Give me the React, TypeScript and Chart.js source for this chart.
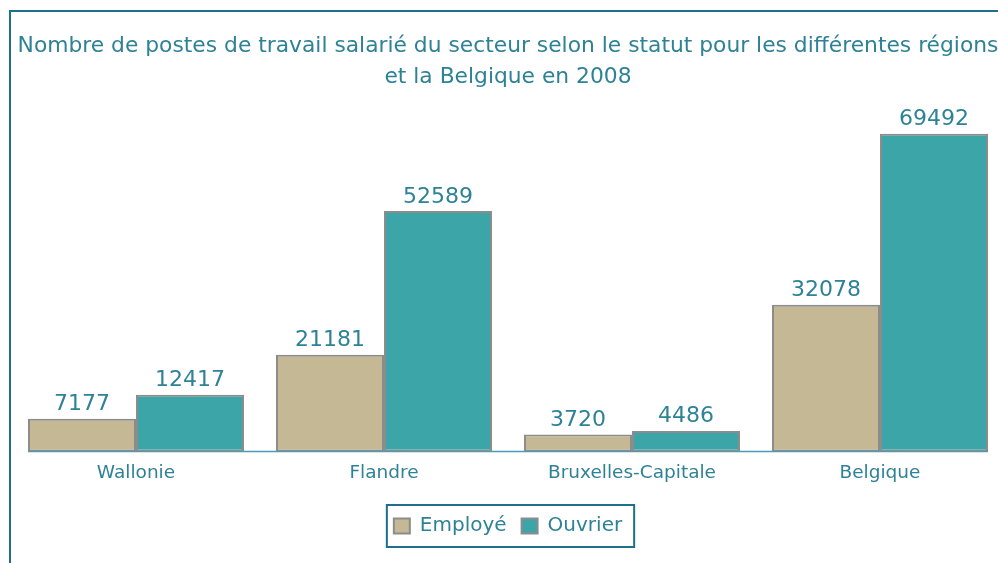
import React, { useEffect, useRef } from 'react';
import { Chart, registerables } from 'chart.js';

Chart.register(...registerables);

const TITLE_LINES = [
  'Nombre de postes de travail salarié du secteur selon le statut pour les différentes régions',
  'et la Belgique en 2008',
];
const CATEGORIES = ['Wallonie', 'Flandre', 'Bruxelles-Capitale', 'Belgique'];
const SERIES_NAMES = ['Employé', 'Ouvrier'];
const EMPLOYE = [7177, 21181, 3720, 32078];
const OUVRIER = [12417, 52589, 4486, 69492];
const Y_MAX = 78500;

const TEXT_COLOR = '#2e8296';
const FRAME_COLOR = '#1f6f8c';
const EMPLOYE_COLOR = '#c5b894';
const OUVRIER_COLOR = '#3ca5a8';
const BAR_BORDER = '#8c8c8c';
const FONT = '"DejaVu Sans", Verdana, sans-serif';

const valueLabels = {
  id: 'valueLabels',
  afterDatasetsDraw(chart: any) {
    const ctx = chart.ctx;
    ctx.save();
    ctx.font = `22px ${FONT}`;
    ctx.fillStyle = TEXT_COLOR;
    ctx.textAlign = 'center';
    ctx.textBaseline = 'alphabetic';
    chart.data.datasets.forEach((ds: any, i: number) => {
      const meta = chart.getDatasetMeta(i);
      meta.data.forEach((bar: any, j: number) => {
        ctx.fillText(String(ds.data[j]), bar.x, bar.y - 8.5);
      });
    });
    ctx.restore();
  },
};

const baseline = {
  id: 'baseline',
  beforeDatasetsDraw(chart: any) {
    const first = chart.getDatasetMeta(0).data[0];
    const lastMeta = chart.getDatasetMeta(chart.data.datasets.length - 1);
    const last = lastMeta.data[lastMeta.data.length - 1];
    if (!first || !last) return;
    const y = chart.scales.y.getPixelForValue(0);
    const ctx = chart.ctx;
    ctx.save();
    ctx.strokeStyle = '#4a9cb2';
    ctx.lineWidth = 1.5;
    ctx.beginPath();
    ctx.moveTo(first.x - first.width / 2, y);
    ctx.lineTo(last.x + last.width / 2, y);
    ctx.stroke();
    ctx.restore();
  },
};

const legendFrame = {
  id: 'legendFrame',
  afterDraw(chart: any) {
    const hb = chart.legend && chart.legend.legendHitBoxes;
    if (!hb || !hb.length) return;
    const left = Math.min(...hb.map((h: any) => h.left));
    const right = Math.max(...hb.map((h: any) => h.left + h.width));
    const cy = hb[0].top + hb[0].height / 2;
    const ctx = chart.ctx;
    ctx.save();
    ctx.strokeStyle = FRAME_COLOR;
    ctx.lineWidth = 2;
    ctx.strokeRect(left - 7, cy - 21, right - left + 19, 42);
    ctx.restore();
  },
};

export default function App() {
  const ref = useRef<HTMLCanvasElement | null>(null);

  useEffect(() => {
    if (!ref.current) return;
    const chart = new Chart(ref.current, {
      type: 'bar',
      data: {
        labels: CATEGORIES,
        datasets: [
          {
            label: SERIES_NAMES[0],
            data: EMPLOYE,
            backgroundColor: EMPLOYE_COLOR,
            borderColor: BAR_BORDER,
            borderWidth: 2,
            borderSkipped: false,
            categoryPercentage: 0.871,
            barPercentage: 1,
          },
          {
            label: SERIES_NAMES[1],
            data: OUVRIER,
            backgroundColor: OUVRIER_COLOR,
            borderColor: BAR_BORDER,
            borderWidth: 2,
            borderSkipped: false,
            categoryPercentage: 0.871,
            barPercentage: 1,
          },
        ],
      },
      options: {
        responsive: false,
        animation: false,
        events: [],
        layout: { padding: { left: 1, right: 17, top: 0, bottom: 11 } },
        scales: {
          x: {
            grid: { display: false, drawTicks: false },
            border: { display: false },
            ticks: {
              color: TEXT_COLOR,
              font: { family: FONT, size: 18.5, lineHeight: 1.2 },
              padding: 11,
              maxRotation: 0,
              autoSkip: false,
            },
          },
          y: {
            display: false,
            min: 0,
            max: Y_MAX,
          },
        },
        plugins: {
          title: {
            display: true,
            text: TITLE_LINES,
            color: TEXT_COLOR,
            font: { family: FONT, size: 21.8, weight: 'normal', lineHeight: 1.4 },
            padding: { top: 19.5, bottom: 0 },
          },
          legend: {
            display: true,
            position: 'bottom',
            title: {
              display: true,
              text: '',
              font: { size: 1, lineHeight: 1 },
              padding: { top: 4.3, bottom: 0 },
            },
            labels: {
              color: TEXT_COLOR,
              font: { family: FONT, size: 20 },
              boxWidth: 16,
              boxHeight: 15,
              padding: 15,
            },
          },
          tooltip: { enabled: false },
        },
      },
      plugins: [baseline, valueLabels, legendFrame],
    });
    return () => chart.destroy();
  }, []);

  return (
    <div style={{ position: 'fixed', inset: 0, overflow: 'hidden', background: '#fff' }}>
      <div
        style={{
          position: 'absolute',
          left: 9,
          top: 10,
          width: 1100,
          height: 700,
          borderLeft: `2px solid ${FRAME_COLOR}`,
          borderTop: `2px solid ${FRAME_COLOR}`,
        }}
      >
        <canvas ref={ref} width={1010} height={545} style={{ display: 'block' }} />
      </div>
    </div>
  );
}
